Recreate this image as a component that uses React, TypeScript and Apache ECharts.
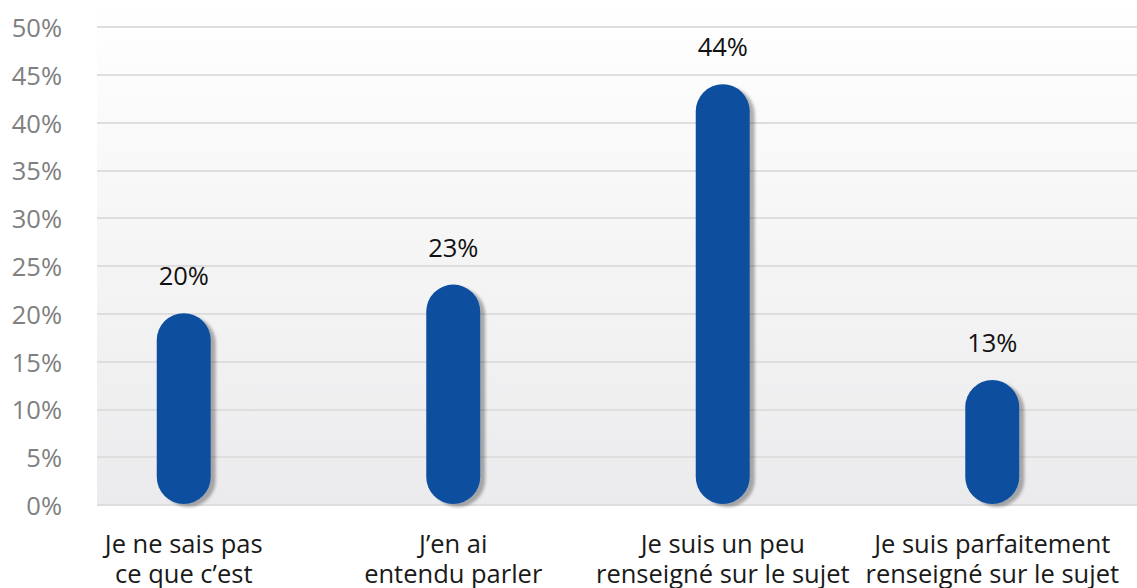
import React, { useEffect, useRef } from "react";
import * as echarts from "echarts";

const categories = [
  "Je ne sais pas\nce que c’est",
  "J’en ai\nentendu parler",
  "Je suis un peu\nrenseigné sur le sujet",
  "Je suis parfaitement\nrenseigné sur le sujet",
];
const values = [20, 23, 44, 13];
const yMin = 0;
const yMax = 50;
const yStep = 5;

export default function App() {
  const ref = useRef<HTMLDivElement>(null);
  useEffect(() => {
    if (!ref.current) return;
    const chart = echarts.init(ref.current, undefined, { renderer: "svg" });
    const font = "'Open Sans', 'Noto Sans', sans-serif";
    chart.setOption({
      animation: false,
      backgroundColor: "#ffffff",
      textStyle: { fontFamily: font },
      graphic: [
        {
          type: "rect",
          z: -100,
          shape: { x: 97, y: 0, width: 1040, height: 505 },
          style: {
            fill: new echarts.graphic.LinearGradient(0, 0, 0, 1, [
              { offset: 0, color: "#ffffff" },
              { offset: 1, color: "#ebebed" },
            ]),
          },
        },
      ],
      grid: [
        { left: 97, right: 0, top: 27, bottom: 83 },
        { left: 49, width: 1078, top: 27, bottom: 83 },
      ],
      xAxis: [
        { type: "category", gridIndex: 0, data: categories, show: false },
        {
          type: "category",
          gridIndex: 1,
          data: categories,
          axisLine: { show: false },
          axisTick: { show: false },
          axisLabel: {
            margin: 24,
            fontSize: 25.5,
            lineHeight: 30,
            color: "#1a1a1a",
            fontFamily: font,
            interval: 0,
          },
        },
      ],
      yAxis: [
        {
          type: "value",
          gridIndex: 0,
          min: yMin,
          max: yMax,
          interval: yStep,
          axisLine: { show: false },
          axisTick: { show: false },
          axisLabel: {
            formatter: "{value}%",
            fontSize: 25.5,
            color: "#808080",
            margin: 35,
            fontFamily: font,
          },
          splitLine: { lineStyle: { color: "#dedede", width: 2 } },
        },
        {
          type: "value",
          gridIndex: 1,
          min: yMin,
          max: yMax,
          interval: yStep,
          show: false,
          splitLine: { show: false },
        },
      ],
      series: [
        {
          type: "bar",
          xAxisIndex: 1,
          yAxisIndex: 1,
          data: values,
          barWidth: 54,
          itemStyle: {
            color: "#0a4f9e",
            borderRadius: 27,
            shadowColor: "rgba(0,0,0,0.3)",
            shadowBlur: 3,
            shadowOffsetX: 5,
            shadowOffsetY: 3,
          },
          label: {
            show: true,
            position: "top",
            distance: 25,
            formatter: (p: any) => `${Math.round(p.value)}%`,
            fontSize: 25.5,
            color: "#111111",
            fontFamily: font,
          },
        },
      ],
    });
    return () => chart.dispose();
  }, []);
  return (
    <div
      ref={ref}
      style={{ position: "fixed", left: 0, top: 0, width: 1137, height: 588 }}
    />
  );
}
